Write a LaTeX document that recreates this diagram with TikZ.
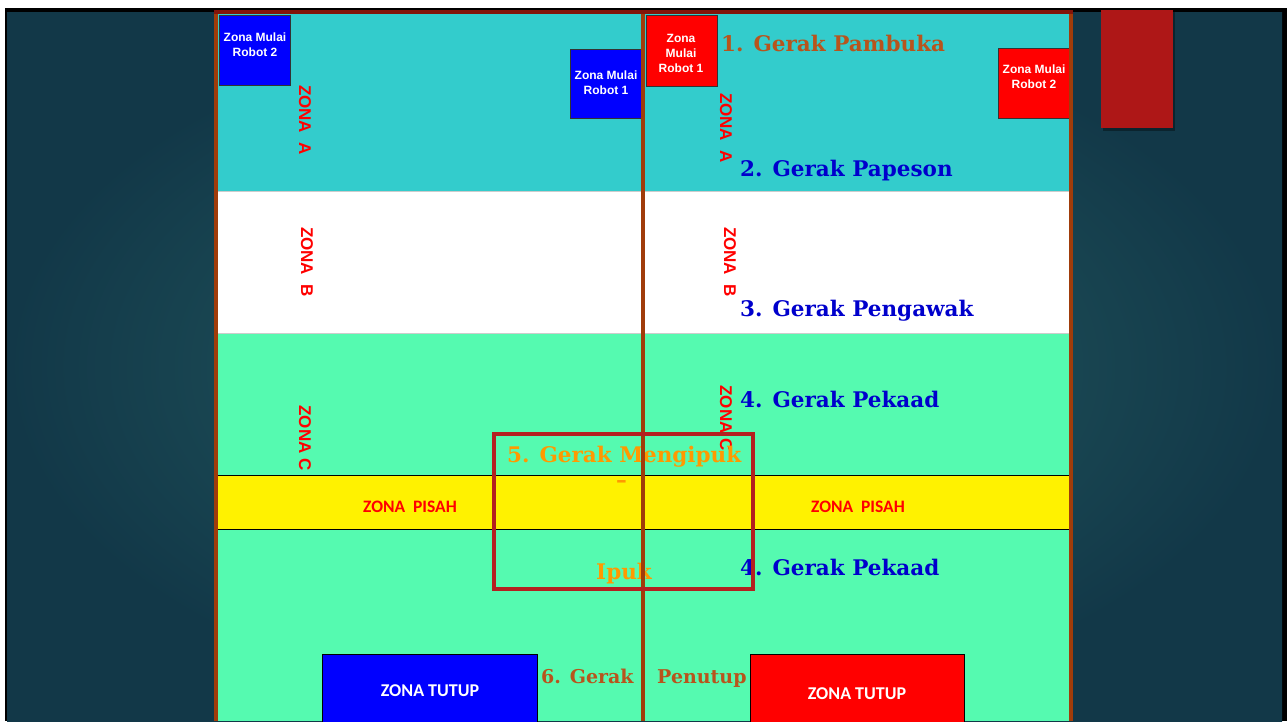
\documentclass[tikz,border=0pt]{standalone}
\usepackage{fontspec}
\setmainfont{DejaVu Serif}
\newfontfamily\arialfont{Liberation Sans}
\newfontfamily\calibrifont{Carlito}

\definecolor{slideouter}{RGB}{18,56,72}
\definecolor{slideinner}{RGB}{38,96,100}
\definecolor{zonea}{RGB}{51,204,204}
\definecolor{zonec}{RGB}{85,250,176}
\definecolor{fieldline}{RGB}{160,60,10}
\definecolor{fieldtop}{RGB}{130,20,10}
\definecolor{gerakbrown}{RGB}{184,84,28}
\definecolor{gerakblue}{RGB}{0,0,204}
\definecolor{gerakorange}{RGB}{255,153,0}
\definecolor{framered}{RGB}{180,32,32}
\definecolor{tabred}{RGB}{174,23,23}

\begin{document}
\begin{tikzpicture}[x=1pt,y=-1pt,
  mulai/.style={font=\arialfont\bfseries\fontsize{12}{15}\selectfont, text=white, align=center, inner sep=0pt},
  zonalabel/.style={font=\arialfont\bfseries\fontsize{17}{17}\selectfont, text=red, rotate=-90, inner sep=0pt},
  pisah/.style={font=\calibrifont\bfseries\fontsize{17.5}{18}\selectfont, text=red, inner sep=0pt},
  tutup/.style={font=\calibrifont\bfseries\fontsize{18}{18}\selectfont, text=white, inner sep=0pt},
  gerak/.style={font=\bfseries\fontsize{21.5}{24}\selectfont, anchor=base west, inner sep=0pt}]

\useasboundingbox (0,0) rectangle (1287,721);
\fill [white] (0,0) rectangle (1287,721);

% slide
\fill [black] (5,8) rectangle (1287,721);
\shade [inner color=slideinner, outer color=slideouter] (7,12) rectangle (1282,721);

\fill [black, opacity=0.35] (1103,12) rectangle (1175,131);
\fill [tabred] (1101,10) rectangle (1173,128);

% zones
\fill [zonea] (218,14) rectangle (1069,191);
\fill [white] (218,191) rectangle (1069,333);
\fill [zonec] (218,333) rectangle (1069,721);
\draw [color=gray!40] (218,191) -- (1069,191);
\draw [color=gray!40] (218,333) -- (1069,333);

\node [zonalabel] (zonaAkiri) at (305,120) {ZONA\ \ A};
\node [zonalabel] (zonaAkanan) at (726,128) {ZONA\ \ A};
\node [zonalabel] (zonaBkiri) at (307,262) {ZONA\ \ B};
\node [zonalabel] (zonaBkanan) at (730,262) {ZONA\ \ B};
\node [zonalabel] (zonaCkiri) at (305,438) {ZONA C};
\node [zonalabel] (zonaCkanan) at (726,418) {ZONA C};

\filldraw [fill=yellow, draw=black] (217,475) rectangle (1069,529);
\node [pisah] (pisahkiri) at (410,507) {ZONA\ \ PISAH};
\node [pisah] (pisahkanan) at (858,507) {ZONA\ \ PISAH};

% zona mulai
\filldraw [fill=blue, draw=black!80] (219,15) rectangle (290,85);
\node [mulai] (mulaiB2) at (255,45) {Zona Mulai\\Robot 2};
\filldraw [fill=blue, draw=black!80] (570,49) rectangle (641,118);
\node [mulai] (mulaiB1) at (606,83) {Zona Mulai\\Robot 1};
\filldraw [fill=red, draw=black!80] (646,15) rectangle (717,86);
\node [mulai] (mulaiM1) at (681,53) {Zona\\Mulai\\Robot 1};
\filldraw [fill=red, draw=black!80] (998,48) rectangle (1069,118);
\node [mulai] (mulaiM2) at (1034,77) {Zona Mulai\\Robot 2};

% zona tutup
\filldraw [fill=blue, draw=black] (322,654) rectangle (537,722);
\node [tutup] (tutupB) at (430,691) {ZONA TUTUP};
\filldraw [fill=red, draw=black] (750,654) rectangle (964,722);
\node [tutup] (tutupM) at (857,694) {ZONA TUTUP};

% gerak
\node [gerak, text=gerakbrown] (gerak1) at (721,51) {1. Gerak Pambuka};
\node [gerak, text=gerakblue] (gerak2) at (740,176) {2. Gerak Papeson};
\node [gerak, text=gerakblue] (gerak3) at (740,316) {3. Gerak Pengawak};
\node [gerak, text=gerakblue] (gerak4) at (740,407) {4. Gerak Pekaad};
\node [gerak, text=gerakblue] (gerak4b) at (740,575) {4. Gerak Pekaad};
\node [gerak, text=gerakorange] (gerak5) at (507,462) {5. Gerak Mengipuk};
\node [gerak, text=gerakorange] (strip5) at (616,487) {--};
\node [gerak, text=gerakorange] (ipuk) at (596,579) {Ipuk};
\node [gerak, text=gerakbrown, font=\bfseries\fontsize{19}{22}\selectfont] (gerak6) at (541,683) {6. Gerak};
\node [gerak, text=gerakbrown, font=\bfseries\fontsize{19}{22}\selectfont] (penutup) at (657,683) {Penutup};

% garis lapangan
\draw [color=fieldline, line width=4pt] (643,12) -- (643,721);
\draw [color=fieldline, line width=4pt] (216,12) -- (216,721);
\draw [color=fieldline, line width=4pt] (1071,12) -- (1071,721);
\draw [color=fieldtop, line width=4pt] (214,12) -- (1073,12);

\draw [color=framered, line width=3.5pt] (494,434) rectangle (753,589);

\end{tikzpicture}
\end{document}
